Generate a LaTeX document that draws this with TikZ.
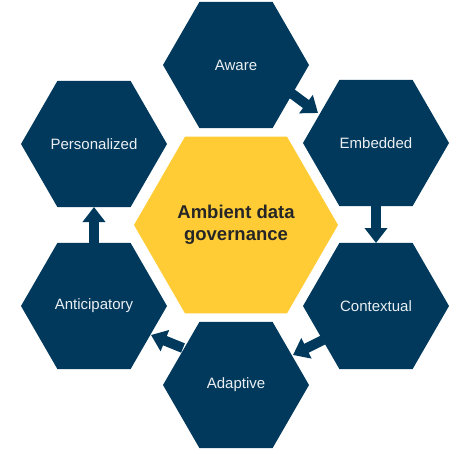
\documentclass[tikz,border=0pt]{standalone}
\usepackage{fontspec}
\setmainfont{Liberation Sans}
\usetikzlibrary{shapes.geometric,arrows.meta}
\definecolor{navy}{RGB}{0,57,92}
\definecolor{gold}{RGB}{255,204,54}
\begin{document}
\begin{tikzpicture}[x=1pt,y=-1pt,
    hexa/.style={regular polygon, regular polygon sides=6, minimum size=146pt,
      inner sep=0pt, fill=navy, text=white!92!navy, font=\fontsize{15}{18}\selectfont},
    core/.style={hexa, minimum size=204pt, fill=gold, text=black!85,
      align=center, font=\fontsize{18.5}{22}\selectfont\bfseries},
    flow/.style={navy, line width=10pt, -{Triangle[width=22pt,length=15pt]}}]
    \useasboundingbox (0,0) rectangle (457,453);

    \node[core] (hub) at (236,225) {Ambient data\\ governance};

    \node[hexa] (aware)    at (236,65)  {Aware};
    \node[hexa] (embedded) at (376,143) {Embedded};
    \node[hexa] (context)  at (376,306) {Contextual};
    \node[hexa] (adaptive) at (236,385) {Adaptive};
    \node[hexa] (anticip)  at (94,306)  {Anticipatory};
    \node[hexa] (personal) at (94,144)  {Personalized};

    \draw[flow] ([shift={(51,25)}]aware.center) -- ([shift={(-58,-30)}]embedded.center);
    \draw[flow] ([shift={(0,55)}]embedded.center) -- ([shift={(0,-63)}]context.center);
    \draw[flow] ([shift={(-53,34)}]context.center) -- ([shift={(57,-30)}]adaptive.center);
    \draw[flow] ([shift={(-53,-37)}]adaptive.center) -- ([shift={(57,29)}]anticip.center);
    \draw[flow] ([shift={(0,-55)}]anticip.center) -- ([shift={(0,63)}]personal.center);
  \end{tikzpicture}
\end{document}
